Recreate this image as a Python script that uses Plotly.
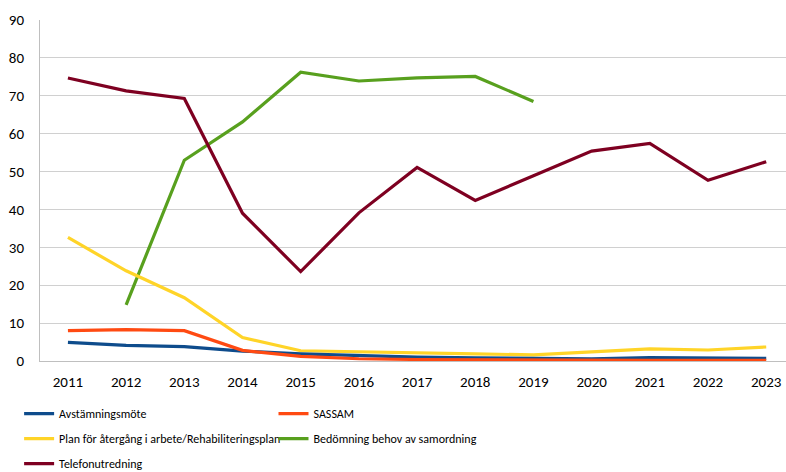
import plotly.graph_objects as go

years = ["2011", "2012", "2013", "2014", "2015", "2016", "2017", "2018", "2019", "2020", "2021", "2022", "2023"]

avstamning = [4.9, 4.1, 3.8, 2.6, 1.9, 1.4, 1.0, 0.8, 0.6, 0.6, 0.9, 0.7, 0.7]
sassam = [8.0, 8.3, 8.0, 2.8, 1.2, 0.6, 0.4, 0.3, 0.2, 0.2, 0.2, 0.2, 0.2]
plan = [32.6, 23.8, 16.7, 6.2, 2.7, 2.5, 2.3, 1.9, 1.6, 2.3, 3.2, 2.9, 3.7]
bedomning = [None, 14.8, 53.0, 63.1, 76.2, 73.9, 74.7, 75.1, 68.5, None, None, None, None]
telefon = [74.7, 71.3, 69.3, 39.0, 23.6, 39.1, 51.1, 42.4, 48.9, 55.4, 57.4, 47.7, 52.6]

names = ["Avstämningsmöte", "SASSAM", "Plan för återgång i arbete/Rehabiliteringsplan",
         "Bedömning behov av samordning", "Telefonutredning"]
series = [avstamning, sassam, plan, bedomning, telefon]
colors = ["#0E4C8C", "#FF4A12", "#FFD428", "#58A01E", "#7E0021"]
legends = ["legend", "legend2", "legend", "legend2", "legend"]
ranks = [1, 1, 2, 2, 3]

FONT = "Carlito, Calibri, 'Open Sans', sans-serif"
LFONT = "'Liberation Sans Narrow', 'Arial Narrow', Carlito, sans-serif"

fig = go.Figure()
order = [3, 4, 2, 0, 1]
for i in order:
    fig.add_trace(go.Scatter(
        x=years, y=series[i], name=names[i], mode="lines",
        line=dict(color=colors[i], width=3.2),
        legend=legends[i], legendgroup=names[i],
        legendrank=ranks[i],
        connectgaps=False,
    ))

legend_common = dict(
    orientation="v", yanchor="top", xanchor="left",
    font=dict(family=LFONT, size=12, color="#000000"),
    bgcolor="rgba(0,0,0,0)", tracegroupgap=6,
    itemwidth=30, traceorder="grouped",
)

fig.update_layout(
    width=786, height=472,
    margin=dict(l=40, r=0, t=20, b=111, autoexpand=False),
    paper_bgcolor="white", plot_bgcolor="white",
    font=dict(family=FONT, size=15, color="#000000"),
    showlegend=True,
    legend=dict(x=-0.028, y=-0.112, **legend_common),
    legend2=dict(x=0.313, y=-0.112, **legend_common),
    xaxis=dict(
        type="category", range=[-0.48, 12.34], automargin=False,
        showgrid=False, showline=True, linecolor="#BFBFBF", linewidth=1,
        ticks="", ticklabelstandoff=7,
        tickfont=dict(family=FONT, size=15, color="#000000"),
    ),
    yaxis=dict(
        range=[0, 90], dtick=10, tick0=0, automargin=False,
        showgrid=True, gridcolor="#D0D0D0", gridwidth=1,
        showline=True, linecolor="#BFBFBF", linewidth=1,
        zeroline=False, ticks="", ticklabelstandoff=12,
        tickfont=dict(family=FONT, size=15, color="#000000"),
    ),
)

fig.write_html("out.html", config={"displayModeBar": False},
               post_script="document.body.style.margin='0';document.body.style.overflow='hidden';")
